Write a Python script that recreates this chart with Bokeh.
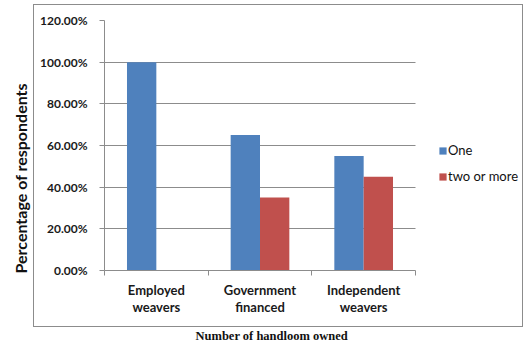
from bokeh.plotting import figure
from bokeh.models import (ColumnDataSource, FixedTicker, NumeralTickFormatter, Legend,
                          LegendItem, Title, Range1d, InlineStyleSheet)
from bokeh.transform import dodge
from bokeh.embed import file_html
from bokeh.resources import INLINE

# Share of respondents by number of handlooms owned
categories = ["Employed\nweavers", "Government\nfinanced", "Independent\nweavers"]
one = [1.00, 0.65, 0.55]
two_or_more = [0.00, 0.35, 0.45]
y_ticks = [0.0, 0.2, 0.4, 0.6, 0.8, 1.0, 1.2]

BLUE = "#4F81BD"
RED = "#C0504D"
GRID = "#8C8C8C"
FONT = "Lato"

bar_w = 0.283
n = len(categories)
centers = [i + 0.5 for i in range(n)]

src = ColumnDataSource(dict(x=centers, one=one, two=two_or_more))

# the frame runs to the right edge so the legend can sit inside it;
# the category area (0..n) keeps 311 px of the 419 px frame
x_end = n * 419 / 311

p = figure(width=523, height=352, output_backend="svg", toolbar_location=None,
           x_range=Range1d(0, x_end), y_range=Range1d(0, 1.2),
           min_border_left=104, min_border_right=0, min_border_top=20,
           min_border_bottom=82)
p.outline_line_color = None
p.background_fill_color = "white"
p.border_fill_color = "white"

# thin grey frame around the chart body
p.stylesheets = [InlineStyleSheet(css="""
:host { position: relative; }
:host::after {
  content: ""; position: absolute; pointer-events: none;
  left: 33px; top: 4px; width: 488px; height: 321px;
  border: 1px solid #8C8C8C;
}
""")]

r_one = p.vbar(x=dodge("x", -bar_w / 2), top="one", width=bar_w, source=src,
               fill_color=BLUE, line_color=None)
r_two = p.vbar(x=dodge("x", bar_w / 2), top="two", width=bar_w, source=src,
               fill_color=RED, line_color=None)

# y axis
ya = p.yaxis[0]
ya.ticker = FixedTicker(ticks=y_ticks)
ya.formatter = NumeralTickFormatter(format="0.00%")
ya.axis_line_color = GRID
ya.major_tick_line_color = GRID
ya.major_tick_out = 5
ya.major_tick_in = 0
ya.minor_tick_line_color = None
ya.major_label_text_font = FONT
ya.major_label_text_font_style = "bold"
ya.major_label_text_font_size = "12px"
ya.major_label_text_color = "#1a1a1a"
ya.major_label_standoff = 12

# x axis: labels at category centres, ticks at category boundaries
xa = p.xaxis[0]
xa.bounds = (0, n)
xa.ticker = FixedTicker(ticks=centers, minor_ticks=list(range(n + 1)))
xa.major_label_overrides = {c: lab for c, lab in zip(centers, categories)}
xa.axis_line_color = GRID
xa.major_tick_line_color = None
xa.minor_tick_line_color = GRID
xa.minor_tick_out = 5
xa.minor_tick_in = 0
xa.major_label_text_font = FONT
xa.major_label_text_font_style = "bold"
xa.major_label_text_font_size = "13px"
xa.major_label_text_line_height = 1.1
xa.major_label_text_color = "#1a1a1a"
xa.major_label_standoff = 5

p.xgrid.grid_line_color = None
p.ygrid.grid_line_color = GRID
p.ygrid.ticker = FixedTicker(ticks=y_ticks)
p.ygrid.cross_bounds = (0, n)

p.add_layout(Title(text="Percentage of respondents", align="left", offset=-3,
                   text_font=FONT, text_font_style="bold", text_font_size="16px",
                   text_color="#111111", standoff=16), "left")

legend = Legend(items=[LegendItem(label="One", renderers=[r_one]),
                       LegendItem(label="two or more", renderers=[r_two])],
                location=(334, 86), orientation="vertical",
                padding=0, margin=0, spacing=10,
                glyph_width=9, glyph_height=9, label_height=9,
                label_standoff=1, border_line_color=None,
                background_fill_alpha=0,
                label_text_font=FONT, label_text_font_size="13px",
                label_text_color="#111111")
p.add_layout(legend, "center")

p.add_layout(Title(text="Number of handloom owned", align="left", offset=91,
                   text_font="Liberation Serif", text_font_style="bold",
                   text_font_size="12.5px", text_color="#111111",
                   text_line_height=0.6, standoff=16), "below")

open("out.html", "w").write(file_html(p, INLINE))
